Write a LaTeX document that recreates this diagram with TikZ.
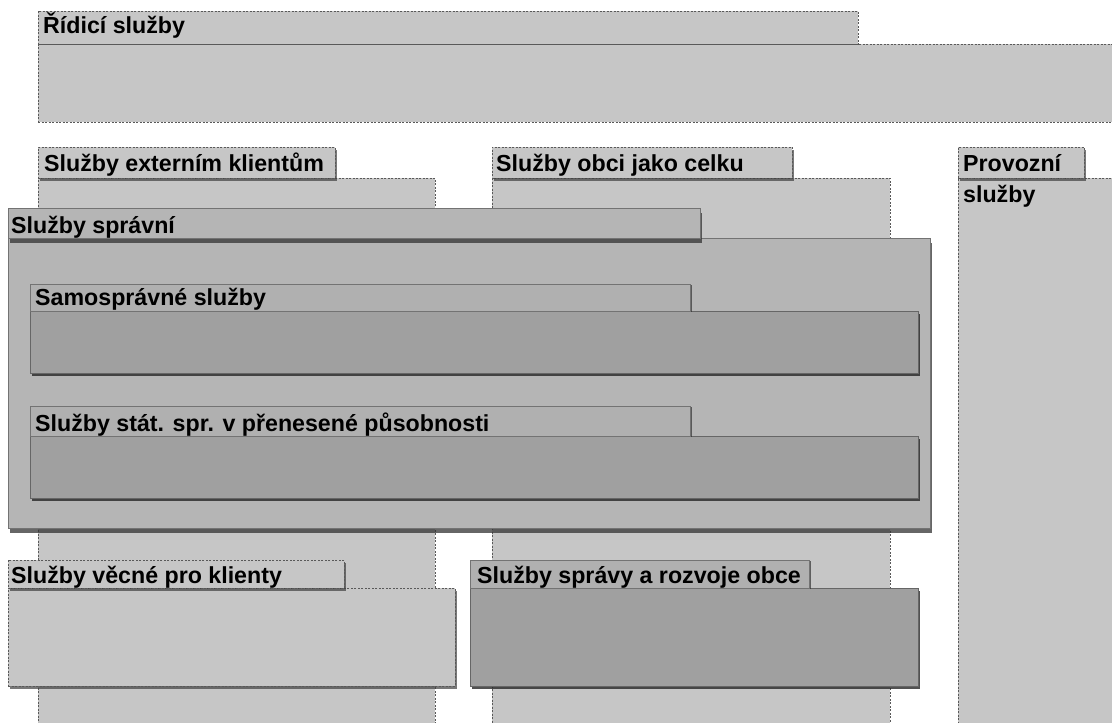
\documentclass[tikz,border=0pt]{standalone}
\usepackage{fontspec}
\setmainfont{Liberation Sans}
\usetikzlibrary{fit,shadows}
\definecolor{lt}{HTML}{C6C6C6}
\definecolor{md}{HTML}{B5B5B5}
\definecolor{dk}{HTML}{A0A0A0}
\definecolor{dt}{HTML}{B0B0B0}
\tikzset{
  box/.style={rectangle, inner sep=0pt, outer sep=0pt},
  lite/.style={box, fill=lt, draw=black!65, line width=0.6pt, dash pattern=on 2pt off 1.5pt},
  litesh/.style={lite, drop shadow={shadow xshift=2pt, shadow yshift=-3pt, fill=black!75, opacity=0.7}},
  midbox/.style={box, fill=md, draw=black!55, line width=0.5pt,
    drop shadow={shadow xshift=2pt, shadow yshift=-5pt, fill=black!80, opacity=0.75}},
  darkbox/.style={box, fill=dk, draw=black!60, line width=0.5pt,
    drop shadow={shadow xshift=2pt, shadow yshift=-3pt, fill=black!85, opacity=0.8}},
  darktab/.style={box, fill=dt, draw=black!55, line width=0.5pt,
    drop shadow={shadow xshift=2pt, shadow yshift=-1pt, fill=black!80, opacity=0.7}},
  lbl/.style={anchor=base west, inner sep=0pt, text=black,
    font=\bfseries\fontsize{23.2}{31}\selectfont}
}
\begin{document}
\begin{tikzpicture}[x=1pt, y=-1pt]
\useasboundingbox[fill=white] (0,0) rectangle (1112,723);

% top band
\node[lite, fit={(38,44) (1114,122)}] (ridB) {};
\node[lite, fit={(38,11) (858,44)}] (ridT) {};

% three tall columns
\node[lite, fit={(38,178) (435,726)}] (extB) {};
\node[litesh, fit={(38,147) (335,178)}] (extT) {};
\node[lite, fit={(492,178) (890,726)}] (obcB) {};
\node[litesh, fit={(492,147) (792,178)}] (obcT) {};
\node[lite, fit={(958,178) (1114,726)}] (provB) {};
\node[litesh, fit={(958,147) (1084,178)}] (provT) {};

% administrative services block
\node[midbox, fit={(8,238) (930,528)}] (sprB) {};
\node[midbox, fit={(8,208) (700,238)}] (sprT) {};

\node[darkbox, fit={(30,311) (918,373)}] (samB) {};
\node[darktab, fit={(30,284) (690,311)}] (samT) {};
\node[darkbox, fit={(30,436) (918,498)}] (stB) {};
\node[darktab, fit={(30,406) (690,436)}] (stT) {};

% lower blocks
\node[litesh, fit={(8,588) (455,686)}] (vecB) {};
\node[litesh, fit={(8,560) (344,588)}] (vecT) {};
\node[darkbox, fit={(470,588) (918,686)}] (rozB) {};
\node[darktab, fit={(470,560) (809,588)}] (rozT) {};

% labels
\node[lbl] (ridL) at (43,33) {Řídicí služby};
\node[lbl] (extL) at (44,171) {Služby externím klientům};
\node[lbl] (obcL) at (496,171) {Služby obci jako celku};
\node[lbl, anchor=north west, align=left] (provL) at (963,154) {Provozní\\služby};
\node[lbl] (sprL) at (11,233) {Služby správní};
\node[lbl] (samL) at (35,305) {Samosprávné služby};
\node[lbl] (stL) at (35,431) {Služby stát. spr. v přenesené působnosti};
\node[lbl] (vecL) at (11,583) {Služby věcné pro klienty};
\node[lbl] (rozL) at (477,583) {Služby správy a rozvoje obce};
\end{tikzpicture}
\end{document}
